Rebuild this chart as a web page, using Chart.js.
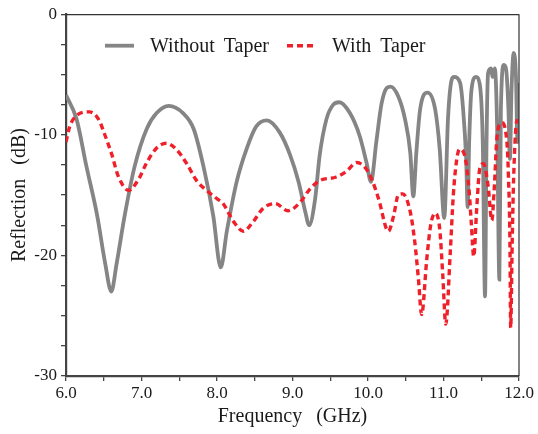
<!DOCTYPE html>
<html><head><meta charset="utf-8">
<script src="https://cdn.jsdelivr.net/npm/chart.js@4/dist/chart.umd.min.js"></script>
<style>html,body{margin:0;padding:0;background:#fff}#wrap{width:538px;height:434px}</style>
</head><body><div id="wrap"><canvas id="c" width="538" height="434"></canvas></div>
<script>
const seriesNames = ['Without Taper', 'With Taper'];
const freqWithout = [6.00,6.14,6.27,6.41,6.52,6.60,6.67,6.78,6.91,7.07,7.20,7.36,7.55,7.69,7.82,7.95,8.05,8.13,8.26,8.39,8.52,8.66,8.83,8.97,9.08,9.17,9.22,9.30,9.36,9.45,9.54,9.62,9.76,9.89,9.98,10.04,10.11,10.18,10.25,10.30,10.40,10.49,10.56,10.60,10.64,10.69,10.79,10.89,10.95,11.01,11.06,11.11,11.14,11.22,11.26,11.30,11.32,11.34,11.37,11.43,11.48,11.52,11.55,11.57,11.59,11.63,11.65,11.68,11.71,11.74,11.76,11.80,11.83,11.86,11.88,11.90,11.93,11.96,11.98,12.00];
const reflWithout = [-6.7,-8.7,-12.6,-16.6,-20.7,-23.0,-20.7,-16.6,-12.6,-9.5,-8.2,-7.6,-8.2,-9.5,-12.6,-16.7,-21.0,-18.0,-13.9,-11.2,-9.3,-8.8,-9.8,-11.7,-13.9,-16.4,-17.5,-15.3,-11.7,-8.7,-7.5,-7.3,-8.2,-10.1,-12.3,-13.9,-10.6,-7.4,-6.1,-6.0,-6.8,-8.7,-11.5,-15.1,-11.5,-7.9,-6.5,-7.9,-11.2,-16.9,-8.6,-5.4,-5.2,-5.7,-7.9,-12.0,-16.0,-10.6,-6.3,-5.2,-5.8,-10.6,-23.4,-10.6,-4.9,-4.5,-5.2,-4.5,-9.3,-22.0,-7.9,-4.2,-4.6,-7.9,-12.0,-6.5,-3.2,-5.2,-10.6,-5.7];
const freqWith = [6.00,6.05,6.14,6.31,6.43,6.52,6.61,6.69,6.83,6.96,7.07,7.20,7.33,7.46,7.60,7.73,7.86,8.00,8.08,8.22,8.35,8.48,8.61,8.77,8.94,9.10,9.23,9.36,9.58,9.72,9.85,9.96,10.05,10.14,10.27,10.34,10.40,10.46,10.56,10.62,10.67,10.71,10.78,10.83,10.89,10.95,10.99,11.03,11.09,11.13,11.17,11.21,11.28,11.34,11.37,11.40,11.44,11.48,11.53,11.59,11.64,11.67,11.71,11.77,11.84,11.86,11.88,11.89,11.91,11.93,11.96,11.98];
const reflWith = [-10.6,-9.3,-8.4,-8.1,-8.7,-10.1,-11.7,-13.4,-14.6,-13.7,-12.3,-11.1,-10.7,-11.2,-12.4,-13.8,-14.6,-15.3,-15.7,-17.2,-18.0,-17.2,-16.1,-15.7,-16.3,-15.6,-14.5,-13.8,-13.5,-13.0,-12.3,-12.7,-13.7,-15.3,-18.0,-16.7,-15.0,-14.9,-16.4,-18.9,-22.1,-24.9,-20.2,-17.5,-16.5,-17.8,-21.6,-25.7,-19.7,-15.0,-12.3,-11.2,-11.7,-14.7,-17.5,-20.1,-16.1,-12.8,-12.4,-14.2,-17.1,-14.7,-10.1,-9.0,-10.6,-13.4,-18.9,-26.0,-18.9,-13.4,-9.3,-8.7];
const xTickLabels = ['6.0','7.0','8.0','9.0','10.0','11.0','12.0'];
const yTickLabels = ['0','-10','-20','-30'];

const toPts = (xs, ys) => xs.map((x, i) => ({x: x, y: ys[i]}));
const serif = "'Liberation Serif', 'Times New Roman', serif";

const spacingPlugin = {
  id: 'spacing',
  beforeDraw(chart) { chart.ctx.wordSpacing = '9px'; }
};

const framePlugin = {
  id: 'frame',
  afterDraw(chart) {
    const {ctx, chartArea: a} = chart;
    ctx.save();
    ctx.strokeStyle = '#333';
    ctx.lineWidth = 1.2;
    ctx.beginPath();
    ctx.moveTo(a.left, a.top + 0.5); ctx.lineTo(a.right, a.top + 0.5);
    ctx.moveTo(a.right, a.top); ctx.lineTo(a.right, a.bottom);
    ctx.stroke();
    // legend
    const ds = chart.data.datasets;
    const items = [{d: ds[0], x0: a.left + 39, tx: a.left + 84}, {d: ds[1], x0: a.left + 221, tx: a.left + 266}];
    const ly = a.top + 31.5;
    ctx.font = "20px " + serif;
    ctx.wordSpacing = '4px';
    ctx.textBaseline = 'middle';
    ctx.fillStyle = '#1a1a1a';
    items.forEach(it => {
      ctx.save();
      ctx.strokeStyle = it.d.borderColor;
      ctx.lineWidth = it.d.borderWidth;
      ctx.setLineDash(it.d.borderDash || []);
      ctx.beginPath();
      ctx.moveTo(it.x0, ly); ctx.lineTo(it.x0 + 29, ly);
      ctx.stroke();
      ctx.restore();
      ctx.fillText(it.d.label, it.tx, ly + 1);
    });
    ctx.restore();
  }
};

new Chart(document.getElementById('c'), {
  type: 'line',
  data: {
    datasets: [
      {label: seriesNames[0], data: toPts(freqWithout, reflWithout), borderColor: '#858585', borderWidth: 3.8, pointRadius: 0, cubicInterpolationMode: 'monotone', fill: false, order: 1},
      {label: seriesNames[1], data: toPts(freqWith, reflWith), borderColor: '#f0202a', borderWidth: 3.4, borderDash: [6, 4], pointRadius: 0, cubicInterpolationMode: 'monotone', fill: false, order: 0}
    ]
  },
  options: {
    responsive: false,
    animation: false,
    devicePixelRatio: 1,
    layout: {padding: {top: 10, right: 19, left: 0, bottom: 0}},
    plugins: {legend: {display: false}, tooltip: {enabled: false}},
    scales: {
      x: {
        type: 'linear', min: 6, max: 12,
        afterFit: s => { s.height = 58; },
        border: {color: '#444', width: 2.2},
        grid: {drawOnChartArea: false, drawTicks: true, tickLength: 5, color: '#444', lineWidth: 1.3},
        ticks: {stepSize: 0.5, autoSkip: false, maxRotation: 0, padding: 2, color: '#1a1a1a', font: {family: serif, size: 17},
          callback: v => { const i = Math.round(v - 6); return Math.abs(v - Math.round(v)) < 1e-6 ? xTickLabels[i] : ''; }},
        title: {display: true, text: 'Frequency (GHz)', color: '#1a1a1a', font: {family: serif, size: 20}, padding: {top: 0, bottom: 5}}
      },
      y: {
        min: -30, max: 0,
        afterFit: s => { s.width = 66; },
        border: {color: '#444', width: 2.2},
        grid: {drawOnChartArea: false, drawTicks: true, tickLength: 5, color: '#444', lineWidth: 1.3},
        ticks: {stepSize: 2.5, autoSkip: false, padding: 4, color: '#1a1a1a', font: {family: serif, size: 17},
          callback: v => { const k = Math.round(-v / 10); return Math.abs(v + k * 10) < 1e-6 ? yTickLabels[k] : ''; }},
        title: {display: true, text: 'Reflection (dB)', color: '#1a1a1a', font: {family: serif, size: 20}, padding: {top: 8, bottom: 0}}
      }
    }
  },
  plugins: [spacingPlugin, framePlugin]
});
</script></body></html>
